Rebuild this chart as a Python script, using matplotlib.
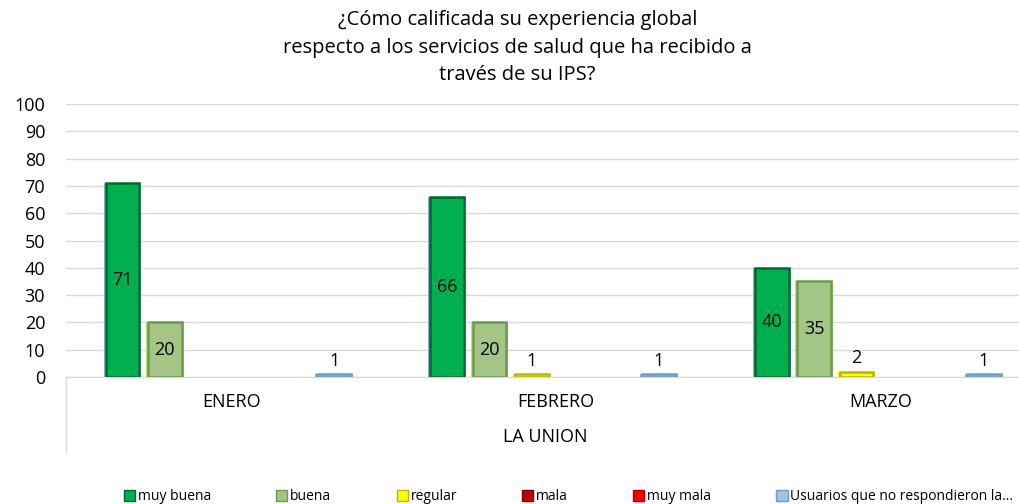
"""Bar chart: experiencia global con los servicios de salud, LA UNION."""
import matplotlib
matplotlib.use("Agg")
import matplotlib.pyplot as plt
import numpy as np
from matplotlib.patches import Patch

plt.rcParams["font.family"] = ["Open Sans", "DejaVu Sans"]

months = ["ENERO", "FEBRERO", "MARZO"]
region = "LA UNION"
series = ["muy buena", "buena", "regular", "mala", "muy mala",
          "Usuarios que no respondieron la..."]
muy_buena = [71, 66, 40]
buena = [20, 20, 35]
regular = [0, 1, 2]
mala = [0, 0, 0]
muy_mala = [0, 0, 0]
no_responde = [1, 1, 1]
values = [muy_buena, buena, regular, mala, muy_mala, no_responde]

faces = ["#00B050", "#A3C585", "#FFFF00", "#C00000", "#FF0000", "#9DC3E6"]
edges = ["#006B30", "#6E9A4E", "#B8B800", "#800000", "#B00000", "#6F9CC4"]
outer = ["#8EA9C1", "#B6E07A", "#E6E600", "#C00000", "#FF0000", "#8FB4D8"]

title = ("¿Cómo calificada su experiencia global\n"
         "respecto a los servicios de salud que ha recibido a\n"
         "través de su IPS?")

fig = plt.figure(figsize=(10.19, 5.04), dpi=100)
ax = fig.add_axes([66 / 1019, 1 - 377 / 504, 1 - 66 / 1019, 273 / 504])

x = np.arange(len(months))
slot = 0.1305
width = 0.108
for k, vals in enumerate(values):
    pos = x + (k - 2.5) * slot
    keep = [i for i, v in enumerate(vals) if v > 0]
    if not keep:
        continue
    p = pos[keep]
    v = np.array(vals, dtype=float)[keep]
    ax.bar(p, v, width=width + 0.008, color=outer[k], zorder=3)
    ax.bar(p, v, width=width - 0.004, color=faces[k],
           edgecolor=edges[k], linewidth=1.8, zorder=4)
    for xi, val in zip(p, v):
        lab = str(int(val))
        if val >= 10:
            ax.text(xi, val / 2, lab, ha="center", va="center",
                    fontsize=13, zorder=5)
        else:
            ax.text(xi, val + 1.5, lab, ha="center", va="bottom",
                    fontsize=13, zorder=5)

ax.set_xlim(-0.5, 2.435)
ax.set_ylim(0, 100)
ax.set_yticks(np.arange(0, 101, 10))
ax.tick_params(axis="y", length=0, labelsize=13, pad=15)
ax.set_xticks([])
ax.grid(axis="y", color="#D9D9D9", linewidth=1, zorder=0)
for side in ["top", "right", "left"]:
    ax.spines[side].set_visible(False)
ax.spines["bottom"].set_color("#D9D9D9")

# multi-level category axis
trans = ax.get_xaxis_transform()
for xi, m in zip(x, months):
    ax.text(xi + 0.01, -0.09, m, transform=trans, ha="center", va="center",
            fontsize=13)
ax.text(0.975, -0.22, region, transform=trans, ha="center", va="center",
        fontsize=13)
ax.plot([-0.5, -0.5], [0, -0.275], transform=trans, color="#D9D9D9",
        linewidth=1, clip_on=False)

fig.text(0.508, 0.98, title, ha="center", va="top", fontsize=14.5,
         linespacing=1.5)

handles = [Patch(facecolor=faces[k], edgecolor=edges[k]) for k in range(6)]
fig.legend(handles, series, loc="lower center", ncol=6, frameon=False,
           fontsize=10, handlelength=0.8, handleheight=0.8,
           handletextpad=0.2, columnspacing=4.7,
           bbox_to_anchor=(0.558, -0.025))

fig.savefig("out.png", dpi=100)
